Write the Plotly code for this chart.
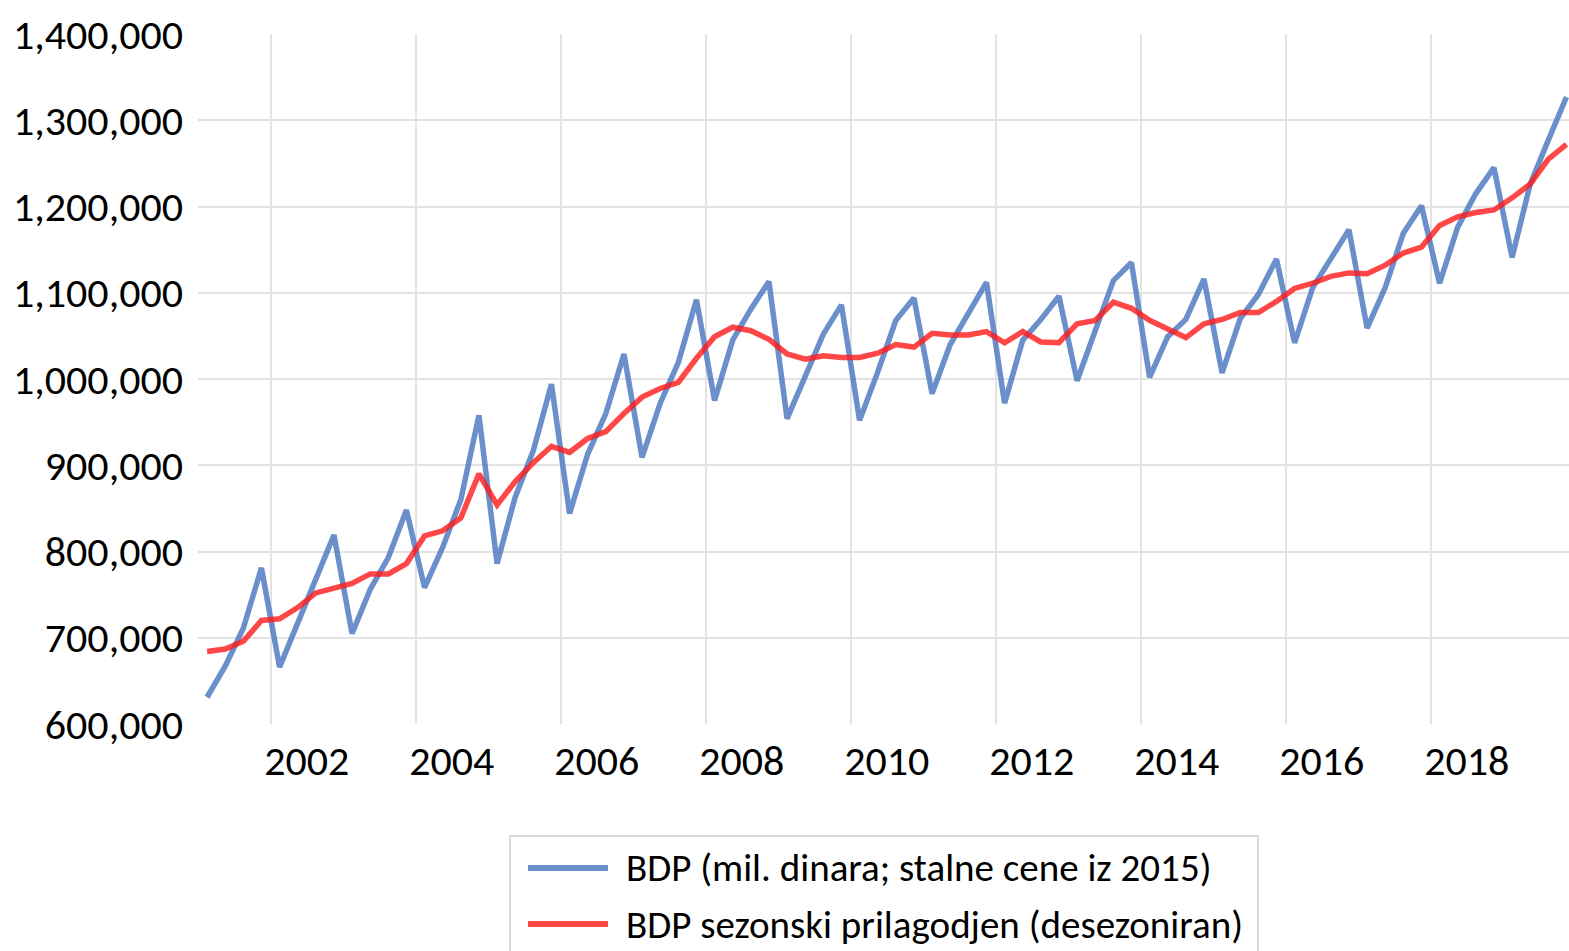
import plotly.graph_objects as go

# Quarterly periods 2001Q1 .. 2019Q4
years = list(range(2001, 2020))
quarters = [1, 2, 3, 4]

bdp = [631, 667, 711, 781, 666, 717, 768, 819, 705, 756, 793, 848,
       758, 805, 860, 958, 786, 863, 917, 994, 844, 913, 960, 1029,
       909, 972, 1019, 1092, 975, 1045, 1081, 1113, 954, 1002, 1052, 1086,
       952, 1008, 1068, 1094, 983, 1040, 1076, 1112, 972, 1045, 1069, 1096,
       998, 1056, 1114, 1135, 1002, 1049, 1069, 1116, 1007, 1070, 1098, 1139,
       1042, 1106, 1141, 1173, 1059, 1106, 1169, 1201, 1111, 1176, 1215, 1245,
       1141, 1226, 1277, 1327]

bdp_sa = [684, 687, 696, 720, 722, 735, 752, 757, 763, 774, 774, 786,
          818, 824, 839, 890, 854, 881, 903, 922, 915, 931, 939, 960,
          979, 989, 996, 1024, 1049, 1060, 1056, 1046, 1029, 1023, 1027, 1025,
          1025, 1030, 1040, 1037, 1053, 1051, 1051, 1055, 1042, 1055, 1043, 1042,
          1064, 1068, 1089, 1082, 1068, 1058, 1048, 1064, 1069, 1077, 1077, 1090,
          1105, 1111, 1119, 1123, 1122, 1132, 1146, 1153, 1178, 1188, 1193, 1196,
          1210, 1226, 1255, 1272]

bdp = [v * 1000 for v in bdp]
bdp_sa = [v * 1000 for v in bdp_sa]

# position of each quarter (middle of the quarter) on a numeric year axis
x = [y + (q - 0.5) / 4 for y in years for q in quarters]

y_ticks = [600000, 700000, 800000, 900000, 1000000, 1100000, 1200000, 1300000, 1400000]
y_grid = [700000, 800000, 900000, 1000000, 1100000, 1200000, 1300000]
x_label_years = [2002, 2004, 2006, 2008, 2010, 2012, 2014, 2016, 2018]

name_bdp = "BDP (mil. dinara; stalne cene iz 2015)"
name_sa = "BDP sezonski prilagodjen (desezoniran)"

blue = "rgba(74,118,190,0.82)"
red = "rgba(255,25,25,0.8)"

FONT = "Carlito, Lato, sans-serif"

fig = go.Figure()
fig.add_trace(go.Scatter(x=x, y=bdp, mode="lines", name=name_bdp,
                         line=dict(color=blue, width=5.5), showlegend=False))
fig.add_trace(go.Scatter(x=x, y=bdp_sa, mode="lines", name=name_sa,
                         line=dict(color=red, width=5.5), showlegend=False))

fig.update_layout(
    width=1569, height=951,
    margin=dict(l=198, r=0, t=34, b=227),
    paper_bgcolor="white", plot_bgcolor="white",
    font=dict(family=FONT, size=42, color="black"),
    xaxis=dict(
        range=[2001, 2019.91],
        tickmode="array",
        tickvals=[yv + 0.5 for yv in x_label_years],
        ticktext=[str(yv) for yv in x_label_years],
        showgrid=False, zeroline=False, showline=False, ticks="",
        ticklabelstandoff=8,
        minor=dict(tickmode="array", tickvals=x_label_years, showgrid=True,
                   gridcolor="#e3e3e3", gridwidth=2, ticks=""),
    ),
    yaxis=dict(
        range=[600000, 1400000],
        tickmode="array",
        tickvals=y_ticks,
        tickformat=",d",
        showgrid=False, zeroline=False, showline=False, ticks="",
        ticklabelstandoff=14,
        minor=dict(tickmode="array", tickvals=y_grid, showgrid=True,
                   gridcolor="#e3e3e3", gridwidth=2, ticks=""),
    ),
)

# Custom legend (box, line samples, labels) placed below the plot
def px_to_paper_x(px):
    return (px - 198) / 1371.0

def py_to_paper_y(py):
    return (724 - py) / 690.0

fig.add_shape(type="rect", xref="paper", yref="paper",
              x0=px_to_paper_x(510), x1=px_to_paper_x(1258),
              y0=py_to_paper_y(960), y1=py_to_paper_y(836),
              line=dict(color="#d9d9d9", width=2), fillcolor="white", layer="above")
for name, col, py in [(name_bdp, blue, 868), (name_sa, red, 924)]:
    fig.add_shape(type="line", xref="paper", yref="paper",
                  x0=px_to_paper_x(528), x1=px_to_paper_x(608),
                  y0=py_to_paper_y(py), y1=py_to_paper_y(py),
                  line=dict(color=col, width=6))
    fig.add_annotation(xref="paper", yref="paper",
                       x=px_to_paper_x(624), y=py_to_paper_y(py),
                       xanchor="left", yanchor="middle", showarrow=False,
                       text=name, font=dict(family=FONT, size=39, color="black"))

# remove the default page margin / scrollbars so the figure fills the window exactly
fig.write_html(
    "out.html",
    config={"displayModeBar": False},
    post_script="document.body.style.margin='0';document.documentElement.style.overflow='hidden';document.body.style.overflow='hidden';",
)
